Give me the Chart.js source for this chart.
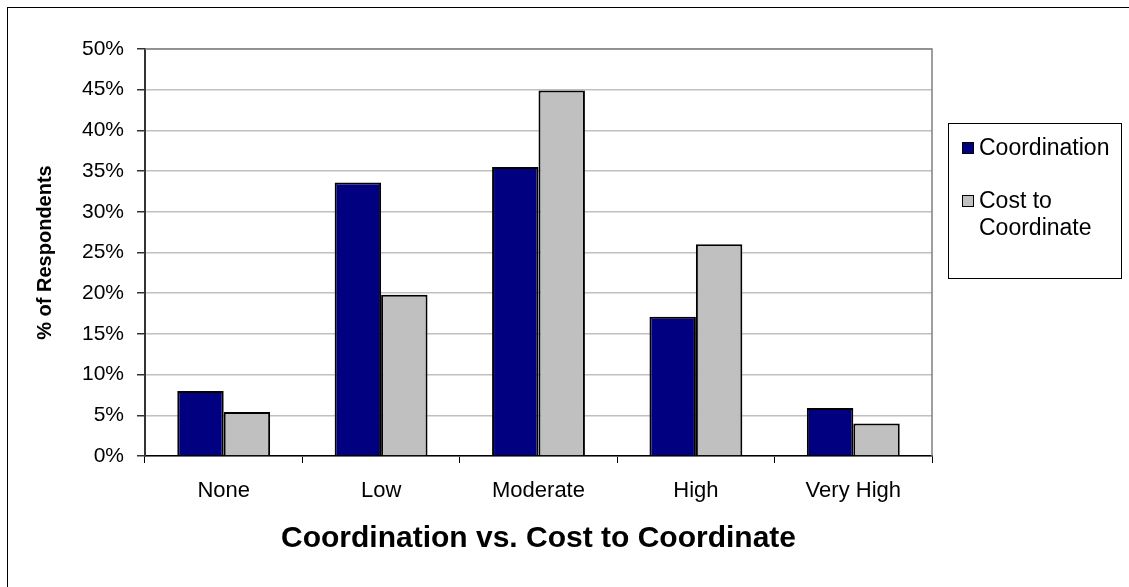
<!DOCTYPE html>
<html>
<head>
<meta charset="utf-8">
<script src="https://cdn.jsdelivr.net/npm/chart.js@4.4.1/dist/chart.umd.min.js"></script>
<style>
    html, body {
        margin: 0;
        padding: 0;
        background: #ffffff;
    }

    #wrap {
        position: relative;
        width: 1129px;
        height: 587px;
        overflow: hidden;
    }

    #frame {
        position: absolute;
        left: 7px;
        top: 7px;
        right: -2px;
        bottom: -2px;
        border-left: 1px solid #000;
        border-top: 1px solid #000;
    }

    #legend {
        position: absolute;
        left: 948px;
        top: 123px;
        width: 174px;
        height: 156px;
        box-sizing: border-box;
        border: 1px solid #000;
        padding: 10px 2px 0 13px;
        font-family: "Liberation Sans", Arial, sans-serif;
        font-size: 23px;
        color: #000;
    }

    .item {
        display: flex;
        align-items: flex-start;
        line-height: 27px;
        margin-bottom: 26px;
    }

    .swatch {
        flex: none;
        width: 10px;
        height: 10px;
        border: 1px solid #000;
        margin: 8px 5px 0 0;
    }
</style>
</head>
<body>
<div id="wrap">
    <div id="frame"></div>
    <canvas id="chart" width="1129" height="587"></canvas>
    <div id="legend"></div>
</div>

<script>
// ======================================
// Data
// ======================================

const categories = ["None", "Low", "Moderate", "High", "Very High"];

const seriesNames = ["Coordination", "Cost to Coordinate"];

const coordination = [8.0, 33.6, 35.5, 17.1, 5.9];

const costToCoordinate = [5.4, 19.8, 44.9, 26.0, 4.0];

const yTicks = [0, 5, 10, 15, 20, 25, 30, 35, 40, 45, 50];

// ======================================
// Colors
// ======================================

const navy = "#000080";
const silver = "#c0c0c0";
const gridColor = "#c0c0c0";
const fontFamily = "'Liberation Sans', Arial, sans-serif";

// right edge and top of the plot area
const plotFrame = {
    id: "plotFrame",
    afterDraw(chart) {
        const { ctx, chartArea } = chart;
        ctx.save();
        ctx.strokeStyle = "#808080";
        ctx.lineWidth = 1.5;
        ctx.beginPath();
        ctx.moveTo(chartArea.left, chartArea.top);
        ctx.lineTo(chartArea.right, chartArea.top);
        ctx.lineTo(chartArea.right, chartArea.bottom);
        ctx.stroke();
        ctx.restore();
    }
};

const chart = new Chart(document.getElementById("chart"), {
    type: "bar",
    data: {
        labels: categories,
        datasets: [
            {
                label: seriesNames[0],
                data: coordination,
                backgroundColor: navy,
                borderColor: "#000",
                borderWidth: 2
            },
            {
                label: seriesNames[1],
                data: costToCoordinate,
                backgroundColor: silver,
                borderColor: "#000",
                borderWidth: 2
            }
        ]
    },
    options: {
        responsive: false,
        animation: false,
        layout: {
            padding: { top: 49, right: 197, bottom: 0, left: 0 }
        },
        plugins: {
            legend: { display: false },
            tooltip: { enabled: false }
        },
        datasets: {
            bar: {
                categoryPercentage: 0.59,
                barPercentage: 1.0
            }
        },
        scales: {
            x: {
                afterFit(scale) {
                    scale.height = 131;
                },
                grid: {
                    offset: true,
                    drawOnChartArea: false,
                    drawTicks: true,
                    tickLength: 7,
                    tickColor: "#000"
                },
                border: { color: "#000", width: 1.5 },
                ticks: {
                    color: "#000",
                    padding: 15,
                    font: { family: fontFamily, size: 22 }
                },
                title: {
                    display: true,
                    text: "Coordination vs. Cost to Coordinate",
                    color: "#000",
                    padding: { top: 0, bottom: 30 },
                    font: { family: fontFamily, size: 30, weight: "bold" }
                }
            },
            y: {
                min: 0,
                max: 50,
                afterFit(scale) {
                    scale.width = 145;
                },
                afterBuildTicks(scale) {
                    scale.ticks = yTicks.map(v => ({ value: v }));
                },
                grid: {
                    color: gridColor,
                    lineWidth: 1.5,
                    tickLength: 8,
                    tickColor: "#333"
                },
                border: { color: "#333", width: 2 },
                ticks: {
                    color: "#000",
                    padding: 13,
                    font: { family: fontFamily, size: 21 },
                    callback: v => v + "%"
                },
                title: {
                    display: true,
                    text: "% of Respondents",
                    color: "#000",
                    padding: { top: 33, bottom: 0 },
                    font: { family: fontFamily, size: 20, weight: "bold" }
                }
            }
        }
    },
    plugins: [plotFrame]
});

// ======================================
// Legend box
// ======================================

const legendBox = document.getElementById("legend");

chart.data.datasets.forEach(ds => {
    const item = document.createElement("div");
    item.className = "item";
    const swatch = document.createElement("span");
    swatch.className = "swatch";
    swatch.style.background = ds.backgroundColor;
    const text = document.createElement("span");
    text.textContent = ds.label;
    item.appendChild(swatch);
    item.appendChild(text);
    legendBox.appendChild(item);
});
</script>
</body>
</html>
